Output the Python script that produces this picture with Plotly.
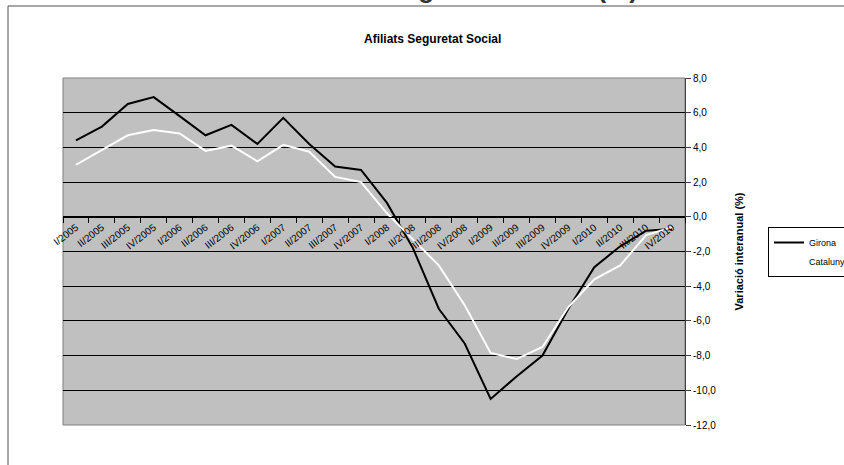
import plotly.graph_objects as go

# trimestres
trimestres = ["I/2005", "II/2005", "III/2005", "IV/2005",
              "I/2006", "II/2006", "III/2006", "IV/2006",
              "I/2007", "II/2007", "III/2007", "IV/2007",
              "I/2008", "II/2008", "III/2008", "IV/2008",
              "I/2009", "II/2009", "III/2009", "IV/2009",
              "I/2010", "II/2010", "III/2010", "IV/2010"]

girona = [4.4, 5.2, 6.5, 6.9, 5.8, 4.7, 5.3, 4.2, 5.7, 4.2, 2.9, 2.7,
          0.8, -1.8, -5.3, -7.3, -10.5, -9.2, -8.0, -5.3, -2.9, -1.7, -0.8, -0.7]
catalunya = [3.0, 3.85, 4.7, 5.0, 4.8, 3.8, 4.1, 3.2, 4.15, 3.75, 2.3, 2.0,
             0.2, -1.3, -2.8, -5.1, -7.85, -8.2, -7.5, -5.2, -3.6, -2.8, -1.05, -0.6]

y_ticks = [8, 6, 4, 2, 0, -2, -4, -6, -8, -10, -12]
y_labels = ["8,0", "6,0", "4,0", "2,0", "0,0", "-2,0", "-4,0", "-6,0", "-8,0", "-10,0", "-12,0"]

# figura una mica més ampla que la finestra: la llegenda queda tallada a la vora
W, H = 860, 465
L, R, T, B = 63, 685, 78, 425


def px(x):
    return (x - L) / (R - L)


def py(y):
    return (B - y) / (B - T)


fig = go.Figure()
fig.add_trace(go.Scatter(x=trimestres, y=girona, mode="lines", name="Girona",
                         line=dict(color="black", width=2)))
fig.add_trace(go.Scatter(x=trimestres, y=catalunya, mode="lines", name="Catalunya",
                         line=dict(color="white", width=2)))

font = "Liberation Sans, Arial, sans-serif"

fig.update_layout(
    width=W, height=H,
    margin=dict(l=L, r=W - R, t=T, b=H - B, autoexpand=False),
    paper_bgcolor="white", plot_bgcolor="#C0C0C0",
    font=dict(family=font, size=10, color="black"),
    showlegend=True,
    legend=dict(x=px(768), y=py(227), xanchor="left", yanchor="top",
                bgcolor="white", bordercolor="black", borderwidth=1,
                font=dict(size=9), itemwidth=30, tracegroupgap=0),
    xaxis=dict(type="category", range=[-0.5, 23.5], anchor="free",
               position=(0 - (-12)) / 20, tickson="boundaries",
               ticks="outside", ticklen=5, tickcolor="black",
               showline=True, linecolor="black", linewidth=1,
               showgrid=False, tickangle=-38, tickfont=dict(size=10),
               automargin=False),
    yaxis=dict(range=[-12, 8], side="right", tickvals=y_ticks, ticktext=y_labels,
               ticks="outside", ticklen=5, tickcolor="#404040",
               showline=True, linecolor="#404040", linewidth=1,
               showgrid=True, gridcolor="black", gridwidth=1, zeroline=False,
               automargin=False,
               title=dict(text="<b>Variació interanual (%)</b>", standoff=20,
                          font=dict(size=11))),
)

# marc del gràfic i vora de l'àrea de dibuix
fig.add_shape(type="rect", xref="paper", yref="paper",
              x0=px(8), y0=py(6), x1=px(900), y1=py(520),
              line=dict(color="#505050", width=1), layer="below")
fig.add_shape(type="rect", xref="paper", yref="paper",
              x0=0, y0=0, x1=1, y1=1,
              line=dict(color="#808080", width=1), layer="below")

fig.add_annotation(text="<b>Afiliats Seguretat Social</b>", xref="paper", yref="paper",
                   x=px(432), y=py(30), showarrow=False, font=dict(size=12))
# títol superior, retallat a la vora de la imatge
fig.add_annotation(text="<b>Afiliats a la Seguretat Social (%)</b>", xref="paper", yref="paper",
                   x=px(440), y=py(5), yanchor="bottom", showarrow=False, borderpad=0,
                   font=dict(size=26, color="#333333"))

fig.write_html("out.html", config={"displayModeBar": False},
               post_script="document.body.style.margin = '0';")
